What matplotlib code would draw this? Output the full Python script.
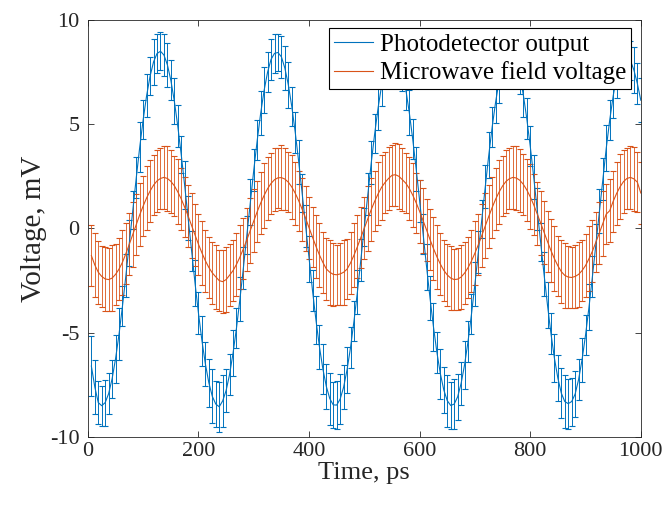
import matplotlib.pyplot as plt
import numpy as np

plt.rcParams['font.family'] = ['Liberation Serif', 'DejaVu Serif']
plt.rcParams['axes.unicode_minus'] = False

# time axis (ps), one sample every 6.25 ps
time_ps = np.arange(1, 161) * 6.25

photo_mv = [
    -6.60, -7.60, -8.35, -8.50, -8.35, -7.92, -7.21, -6.25, -5.08, -3.73,
    -2.25, -0.69, 0.89, 2.44, 3.90, 5.23, 6.38, 7.31, 7.99, 8.39,
    8.50, 8.32, 7.85, 7.11, 6.12, 4.92, 3.55, 2.07, 0.50, -1.08,
    -2.62, -4.07, -5.38, -6.50, -7.40, -8.05, -8.42, -8.55, -8.27, -7.77,
    -7.00, -5.98, -4.77, -3.38, -1.88, -0.31, 1.27, 2.80, 4.23, 5.53,
    6.63, 7.50, 8.11, 8.40, 8.44, 8.23, 7.69, 6.89, 5.85, 4.61,
    3.20, 1.69, 0.12, -1.45, -2.98, -4.40, -5.67, -6.74, -7.58, -8.16,
    -8.46, -8.47, -8.18, -7.61, -6.77, -5.71, -4.44, -3.03, -1.50, 0.07,
    1.64, 3.16, 4.56, 5.81, 6.86, 7.67, 8.21, 8.48, 8.45, 8.13,
    7.52, 6.66, 5.56, 4.28, 2.85, 1.32, -0.26, -1.83, -3.33, -4.72,
    -5.95, -6.97, -7.75, -8.26, -8.49, -8.42, -8.07, -7.43, -6.54, -5.42,
    -4.11, -2.67, -1.13, 0.45, 2.01, 3.51, 4.88, 6.08, 7.08, 7.83,
    8.31, 8.50, 8.39, 8.00, 7.34, 6.41, 5.27, 3.95, 2.48, 0.94,
    -0.64, -2.20, -3.68, -5.04, -6.22, -7.18, -7.90, -8.30, -8.40, -8.30,
    -7.94, -7.24, -6.29, -5.12, -3.78, -2.30, -0.75, 0.83, 2.38, 3.85,
    5.19, 6.35, 7.28, 7.90, 8.20, 8.25, 8.05, 7.60, 6.95, 6.15,
]

photo_err = [
    1.45, 1.30, 1.05, 0.95, 1.10, 1.00, 0.90, 1.15, 1.25, 0.95,
    1.05, 1.10, 0.90, 1.00, 1.20, 0.95, 1.05, 0.90, 1.10, 0.95,
    0.90, 1.00, 1.05, 0.95, 1.10, 1.00, 0.90, 1.15, 1.05, 0.95,
    1.10, 1.00, 1.20, 1.05, 1.15, 1.30, 1.10, 1.20, 1.25, 1.05,
    1.00, 1.10, 0.95, 1.05, 1.00, 0.90, 1.10, 1.00, 0.95, 1.05,
    1.10, 0.95, 1.00, 0.95, 0.90, 1.00, 1.05, 1.10, 0.95, 1.00,
    1.05, 0.90, 1.00, 1.10, 1.00, 1.15, 1.05, 1.20, 1.10, 1.25,
    1.10, 1.15, 1.20, 1.05, 1.10, 1.00, 0.95, 1.05, 1.00, 0.90,
    1.00, 1.05, 0.95, 1.10, 1.00, 0.95, 1.05, 0.95, 1.00, 1.05,
    0.95, 1.00, 1.10, 0.95, 1.05, 1.00, 0.95, 1.10, 1.05, 1.15,
    1.00, 1.20, 1.10, 1.25, 1.15, 1.20, 1.10, 1.05, 1.15, 1.00,
    0.95, 1.05, 1.00, 0.90, 1.05, 1.10, 0.95, 1.00, 1.05, 0.95,
    1.00, 0.95, 1.05, 1.00, 0.90, 1.05, 1.00, 0.95, 1.05, 1.00,
    0.90, 1.05, 1.10, 1.00, 1.15, 1.10, 1.20, 1.25, 1.20, 1.15,
    1.10, 1.00, 1.05, 0.95, 1.10, 1.00, 0.95, 1.05, 1.00, 1.10,
    0.95, 1.05, 1.00, 0.95, 1.05, 1.00, 0.95, 1.10, 1.00, 1.05,
]

mw_mv = [
    -1.30, -1.75, -2.10, -2.30, -2.42, -2.45, -2.38, -2.20, -1.95, -1.62,
    -1.20, -0.75, -0.28, 0.20, 0.66, 1.08, 1.47, 1.80, 2.08, 2.28,
    2.40, 2.45, 2.40, 2.26, 2.05, 1.76, 1.42, 1.02, 0.60, 0.14,
    -0.31, -0.76, -1.17, -1.55, -1.87, -2.13, -2.32, -2.50, -2.55, -2.45,
    -2.24, -2.02, -1.72, -1.37, -0.97, -0.54, -0.09, 0.37, 0.81, 1.22,
    1.59, 1.91, 2.16, 2.34, 2.43, 2.44, 2.37, 2.22, 1.99, 1.69,
    1.33, 0.92, 0.49, 0.03, -0.42, -0.86, -1.27, -1.63, -1.94, -2.10,
    -2.20, -2.22, -2.18, -2.10, -1.95, -1.65, -1.28, -0.87, -0.43, 0.02,
    0.47, 0.91, 1.31, 1.67, 1.98, 2.21, 2.40, 2.55, 2.58, 2.50,
    2.34, 2.17, 1.92, 1.60, 1.23, 0.82, 0.38, -0.07, -0.53, -0.96,
    -1.36, -1.71, -2.01, -2.23, -2.38, -2.45, -2.43, -2.33, -2.14, -1.88,
    -1.56, -1.18, -0.77, -0.33, 0.13, 0.58, 1.01, 1.41, 1.75, 2.04,
    2.26, 2.39, 2.45, 2.42, 2.31, 2.12, 1.85, 1.52, 1.14, 0.71,
    0.27, -0.18, -0.63, -1.06, -1.45, -1.79, -2.07, -2.25, -2.33, -2.35,
    -2.30, -2.20, -2.02, -1.78, -1.45, -1.09, -0.66, -0.22, 0.24, 0.69,
    0.85, 1.30, 1.68, 2.00, 2.25, 2.40, 2.45, 2.38, 2.22, 1.70,
]

mw_err = [
    1.45, 1.55, 1.50, 1.45, 1.55, 1.50, 1.60, 1.45, 1.50, 1.55,
    1.45, 1.50, 1.55, 1.45, 1.50, 1.45, 1.55, 1.50, 1.45, 1.50,
    1.45, 1.50, 1.55, 1.50, 1.45, 1.55, 1.50, 1.45, 1.50, 1.55,
    1.50, 1.45, 1.55, 1.50, 1.45, 1.50, 1.55, 1.45, 1.50, 1.55,
    1.50, 1.45, 1.50, 1.55, 1.45, 1.50, 1.55, 1.50, 1.45, 1.50,
    1.55, 1.50, 1.45, 1.50, 1.45, 1.55, 1.50, 1.45, 1.55, 1.50,
    1.45, 1.50, 1.55, 1.50, 1.45, 1.50, 1.55, 1.45, 1.50, 1.55,
    1.50, 1.45, 1.50, 1.55, 1.45, 1.50, 1.55, 1.50, 1.45, 1.50,
    1.55, 1.50, 1.45, 1.50, 1.55, 1.45, 1.50, 1.45, 1.50, 1.55,
    1.50, 1.45, 1.50, 1.55, 1.45, 1.50, 1.55, 1.50, 1.45, 1.50,
    1.55, 1.50, 1.45, 1.50, 1.55, 1.45, 1.50, 1.55, 1.50, 1.45,
    1.50, 1.55, 1.45, 1.50, 1.55, 1.50, 1.45, 1.50, 1.55, 1.45,
    1.50, 1.45, 1.50, 1.55, 1.50, 1.45, 1.50, 1.55, 1.45, 1.50,
    1.55, 1.50, 1.45, 1.50, 1.55, 1.45, 1.50, 1.55, 1.50, 1.45,
    1.50, 1.55, 1.45, 1.50, 1.55, 1.50, 1.45, 1.50, 1.55, 1.45,
    1.50, 1.45, 1.50, 1.55, 1.50, 1.45, 1.50, 1.55, 1.45, 1.50,
]

blue = '#0072BD'
orange = '#D95319'
axcol = '#262626'

fig = plt.figure(figsize=(6.71, 5.12), dpi=100)
ax = fig.add_axes([0.131, 0.1465, 0.824, 0.8145])

ax.errorbar(time_ps, photo_mv, yerr=photo_err, color=blue, lw=0.8,
            elinewidth=0.7, capsize=2.2, capthick=0.8,
            label='Photodetector output')
ax.errorbar(time_ps, mw_mv, yerr=mw_err, color=orange, lw=0.8,
            elinewidth=0.6, capsize=2.2, capthick=0.8,
            label='Microwave field voltage')

ax.set_xlim(0, 1000)
ax.set_ylim(-10, 10)
ax.set_xticks(np.arange(0, 1001, 200))
ax.set_yticks([-10, -5, 0, 5, 10])
ax.tick_params(direction='in', top=True, right=True, labelsize=16,
               colors=axcol, length=4, width=0.6)
ax.tick_params(axis='y', pad=6)
for s in ax.spines.values():
    s.set_color(axcol)
    s.set_linewidth(0.6)

ax.set_xlabel('Time, ps', fontsize=19, color=axcol, labelpad=1)
ax.set_ylabel('Voltage, mV', fontsize=21, color=axcol, labelpad=2)

handles, labels = ax.get_legend_handles_labels()
handles = [h[0] for h in handles]
leg = ax.legend(handles, labels, loc='upper right',
                bbox_to_anchor=(0.983, 0.98), fontsize=18, frameon=True,
                fancybox=False, edgecolor='black', framealpha=1,
                handlelength=1.55, handletextpad=0.3, borderpad=0.2,
                labelspacing=0.22, borderaxespad=0)
leg.get_frame().set_linewidth(0.8)

fig.savefig('out.png', dpi=100)
